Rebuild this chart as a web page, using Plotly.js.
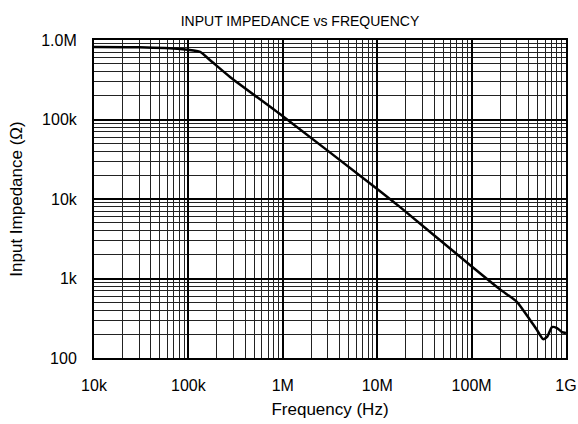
<!DOCTYPE html>
<html>
<head>
<meta charset="utf-8">
<script src="https://cdn.plot.ly/plotly-3.0.1.min.js"></script>
<style>html,body{margin:0;padding:0;background:#fff;}#chart{width:578px;height:424px;}</style>
</head>
<body>
<div id="chart"></div>
<script>
// Frequency (Hz)
const freq = [1e4, 3e4, 8.15e4, 1.33e5, 1.69e5, 2.76e5, 9.33e5, 1e7, 1.75e7, 9.6e7, 2e8, 3.03e8, 4.16e8, 4.93e8, 5.71e8, 6.3e8, 7.11e8, 8.03e8, 9.08e8, 1e9];
// Input impedance (ohm)
const impedance = [8.17e5, 8.1e5, 7.71e5, 7.07e5, 5.6e5, 3.43e5, 1.17e5, 1.34e4, 7.9e3, 1.48e3, 7.3e2, 5.06e2, 3.01e2, 2.25e2, 1.73e2, 1.84e2, 2.45e2, 2.38e2, 2.12e2, 2.06e2];

const xTickVals = [1e4, 1e5, 1e6, 1e7, 1e8, 1e9];
const xTickText = ["10k", "100k", "1M", "10M", "100M", "1G"];
const yTickVals = [1e2, 1e3, 1e4, 1e5, 1e6];
const yTickText = ["100", "1k", "10k", "100k", "1.0M"];

const trace = {
  x: freq, y: impedance, type: 'scatter', mode: 'lines',
  line: {color: '#000', width: 2.5, shape: 'spline', smoothing: 0.6},
  hoverinfo: 'skip'
};

const fam = 'Liberation Sans, Arial, sans-serif';

const layout = {
  width: 578, height: 424,
  margin: {l: 94, r: 12, t: 40, b: 66},
  paper_bgcolor: '#fff', plot_bgcolor: '#fff',
  font: {family: fam, color: '#000', size: 16},
  showlegend: false,
  title: {text: 'INPUT IMPEDANCE vs FREQUENCY', x: 0.519, xanchor: 'center', y: 0.951, yanchor: 'middle', font: {size: 14, color: '#000', family: fam}},
  xaxis: {
    type: 'log', range: [4, 9],
    tickvals: xTickVals, ticktext: xTickText,
    showgrid: true, gridcolor: '#000', gridwidth: 2,
    minor: {dtick: 'D1', showgrid: true, gridcolor: '#222', gridwidth: 1, ticks: ''},
    showline: true, linecolor: '#000', linewidth: 2, mirror: true,
    ticks: '', ticklabelstandoff: 12, zeroline: false,
    tickfont: {size: 16},
    title: {text: 'Frequency (Hz)', font: {size: 17}, standoff: 10}
  },
  yaxis: {
    type: 'log', range: [2, 6],
    tickvals: yTickVals, ticktext: yTickText,
    showgrid: true, gridcolor: '#000', gridwidth: 2,
    minor: {dtick: 'D1', showgrid: true, gridcolor: '#222', gridwidth: 1, ticks: ''},
    showline: true, linecolor: '#000', linewidth: 2, mirror: true,
    ticks: '', ticklabelstandoff: 12, zeroline: false,
    tickfont: {size: 16},
    title: {text: 'Input Impedance (Ω)', font: {size: 17}, standoff: 14}
  }
};

Plotly.newPlot('chart', [trace], layout, {staticPlot: true, displayModeBar: false});
</script>
</body>
</html>
